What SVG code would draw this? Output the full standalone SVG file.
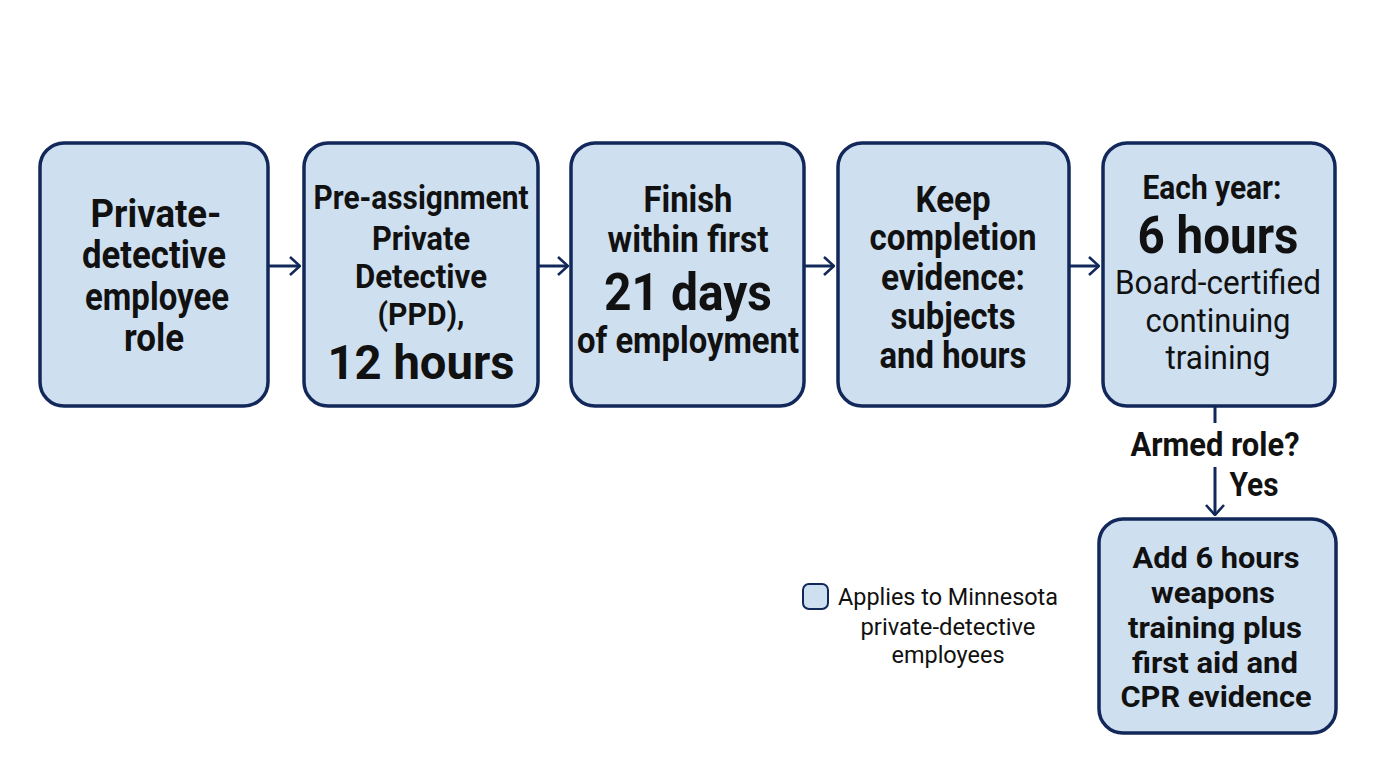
<svg xmlns="http://www.w3.org/2000/svg" width="1376" height="768" viewBox="0 0 1376 768">
<defs>
<style>
.box{fill:#cedff0;stroke:#13285a;stroke-width:3.5}
.t{font-family:Roboto,"Liberation Sans",sans-serif;font-weight:700;fill:#111;text-anchor:middle}
.r{font-family:Roboto,"Liberation Sans",sans-serif;font-weight:400;fill:#111;text-anchor:middle}
.c{fill:none;stroke:#13285a;stroke-width:3}
</style>
<marker id="ah" viewBox="0 0 12 20" refX="11" refY="10" markerWidth="12" markerHeight="20" markerUnits="userSpaceOnUse" orient="auto">
<path d="M1,1 L11,10 L1,19" fill="none" stroke="#13285a" stroke-width="2.6"/>
</marker>
</defs>
<rect width="1376" height="768" fill="#fff"/>
<g id="connectors">
<line class="c" x1="269" y1="266" x2="300" y2="266" marker-end="url(#ah)"/>
<line class="c" x1="539" y1="266" x2="568" y2="266" marker-end="url(#ah)"/>
<line class="c" x1="805" y1="266" x2="834" y2="266" marker-end="url(#ah)"/>
<line class="c" x1="1070" y1="266" x2="1099" y2="266" marker-end="url(#ah)"/>
<line class="c" x1="1215" y1="407" x2="1215" y2="423"/>
<line class="c" x1="1215" y1="467" x2="1215" y2="515" marker-end="url(#ah)"/>
<text class="t" x="1215" y="456" font-size="34" textLength="169" lengthAdjust="spacingAndGlyphs">Armed role?</text>
<text class="t" x="1254" y="496" font-size="34" textLength="49" lengthAdjust="spacingAndGlyphs">Yes</text>
</g>
<g id="n1">
<rect class="box" x="40" y="143" width="228" height="263" rx="24"/>
<text class="t" font-size="38" x="156" y="227" textLength="131" lengthAdjust="spacingAndGlyphs">Private-</text>
<text class="t" font-size="38" x="154" y="268" textLength="144" lengthAdjust="spacingAndGlyphs">detective</text>
<text class="t" font-size="38" x="157" y="310" textLength="144" lengthAdjust="spacingAndGlyphs">employee</text>
<text class="t" font-size="38" x="154" y="351" textLength="60" lengthAdjust="spacingAndGlyphs">role</text>
</g>
<g id="n2">
<rect class="box" x="304" y="143" width="234" height="263" rx="24"/>
<text class="t" font-size="34" x="421" y="209" textLength="215" lengthAdjust="spacingAndGlyphs">Pre-assignment</text>
<text class="t" font-size="34" x="421" y="250" textLength="98" lengthAdjust="spacingAndGlyphs">Private</text>
<text class="t" font-size="34" x="421" y="288" textLength="132" lengthAdjust="spacingAndGlyphs">Detective</text>
<text class="t" font-size="31" x="421" y="325" textLength="87" lengthAdjust="spacingAndGlyphs">(PPD),</text>
<text class="t" font-size="48" x="421" y="379" textLength="187" lengthAdjust="spacingAndGlyphs">12 hours</text>
</g>
<g id="n3">
<rect class="box" x="571" y="143" width="233" height="263" rx="24"/>
<text class="t" font-size="36" x="688" y="212" textLength="89" lengthAdjust="spacingAndGlyphs">Finish</text>
<text class="t" font-size="36" x="688" y="252" textLength="161" lengthAdjust="spacingAndGlyphs">within first</text>
<text class="t" font-size="52" x="688" y="310" textLength="168" lengthAdjust="spacingAndGlyphs">21 days</text>
<text class="t" font-size="36" x="688" y="353" textLength="222" lengthAdjust="spacingAndGlyphs">of employment</text>
</g>
<g id="n4">
<rect class="box" x="838" y="143" width="231" height="263" rx="24"/>
<text class="t" font-size="36" x="953" y="212" textLength="75" lengthAdjust="spacingAndGlyphs">Keep</text>
<text class="t" font-size="36" x="953" y="250" textLength="167" lengthAdjust="spacingAndGlyphs">completion</text>
<text class="t" font-size="36" x="953" y="290" textLength="144" lengthAdjust="spacingAndGlyphs">evidence:</text>
<text class="t" font-size="36" x="953" y="329" textLength="125" lengthAdjust="spacingAndGlyphs">subjects</text>
<text class="t" font-size="36" x="953" y="368" textLength="147" lengthAdjust="spacingAndGlyphs">and hours</text>
</g>
<g id="n5">
<rect class="box" x="1103" y="143" width="232" height="263" rx="24"/>
<text class="t" font-size="34" x="1212" y="199" textLength="139" lengthAdjust="spacingAndGlyphs">Each year:</text>
<text class="t" font-size="52" x="1218" y="253" textLength="161" lengthAdjust="spacingAndGlyphs">6 hours</text>
<text class="r" font-size="34" x="1218" y="294" textLength="206" lengthAdjust="spacingAndGlyphs">Board-certified</text>
<text class="r" font-size="34" x="1218" y="332" textLength="145" lengthAdjust="spacingAndGlyphs">continuing</text>
<text class="r" font-size="34" x="1218" y="369" textLength="105" lengthAdjust="spacingAndGlyphs">training</text>
</g>
<g id="n6">
<rect class="box" x="1099" y="519" width="237" height="214" rx="24"/>
<text class="t" font-size="29.5" x="1216" y="568" textLength="167" lengthAdjust="spacingAndGlyphs">Add 6 hours</text>
<text class="t" font-size="29.5" x="1213" y="603" textLength="124" lengthAdjust="spacingAndGlyphs">weapons</text>
<text class="t" font-size="29.5" x="1215" y="638" textLength="174" lengthAdjust="spacingAndGlyphs">training plus</text>
<text class="t" font-size="29.5" x="1215" y="673" textLength="166" lengthAdjust="spacingAndGlyphs">first aid and</text>
<text class="t" font-size="29.5" x="1216" y="707" textLength="191" lengthAdjust="spacingAndGlyphs">CPR evidence</text>
</g>
<g id="legend">
<rect x="803" y="584" width="25" height="25" rx="6" fill="#cedff0" stroke="#13285a" stroke-width="2"/>
<text class="r" font-size="24" x="948" y="605" textLength="220" lengthAdjust="spacingAndGlyphs">Applies to Minnesota</text>
<text class="r" font-size="24" x="948" y="635" textLength="175" lengthAdjust="spacingAndGlyphs">private-detective</text>
<text class="r" font-size="24" x="948" y="663" textLength="113" lengthAdjust="spacingAndGlyphs">employees</text>
</g>
</svg>
